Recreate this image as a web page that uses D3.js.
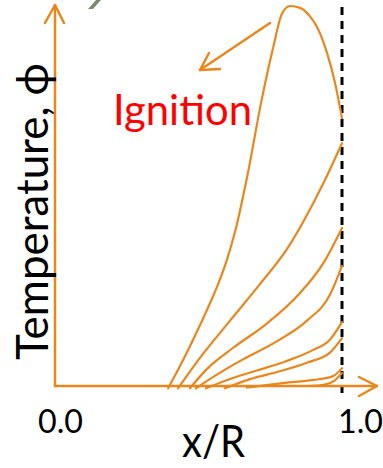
<html lang="en">
<head>
    <meta charset="UTF-8">
    <title>Temperature profiles and ignition</title>
    <style>
        body {
            margin: 0;
            background: #fff;
        }
        text {
            font-family: Lato, "DejaVu Sans", sans-serif;
        }
    </style>
</head>
<body>
    <div id="chart"></div>
    <script src="https://d3js.org/d3.v7.min.js"></script>
    <script>
        // temperature profiles phi(x/R), first one is the ignition curve
        const ignition = [[0.394, -0.006], [0.446, 0.068], [0.505, 0.160], [0.564, 0.260], [0.599, 0.332],
            [0.627, 0.405], [0.672, 0.560], [0.718, 0.745], [0.760, 0.890], [0.791, 0.980], [0.819, 1.0],
            [0.854, 0.995], [0.889, 0.972], [0.913, 0.945], [0.948, 0.876], [0.976, 0.797], [1.0, 0.705]];
        const profileB = [[0.429, -0.006], [0.505, 0.074], [0.610, 0.172], [0.714, 0.268], [0.808, 0.360],
            [0.878, 0.450], [0.934, 0.532], [1.0, 0.639]];
        const profileC = [[0.470, -0.006], [0.530, 0.045], [0.620, 0.100], [0.739, 0.165], [0.854, 0.245],
            [0.934, 0.322], [1.0, 0.416]];
        const profileD = [[0.491, -0.006], [0.564, 0.030], [0.655, 0.070], [0.774, 0.118], [0.878, 0.172],
            [0.958, 0.240], [1.0, 0.316]];
        const profileE = [[0.526, -0.006], [0.600, 0.016], [0.700, 0.040], [0.800, 0.064], [0.900, 0.095],
            [0.958, 0.122], [1.0, 0.168]];
        const profileF = [[0.592, -0.006], [0.680, 0.018], [0.780, 0.038], [0.880, 0.062], [0.958, 0.088],
            [1.0, 0.126]];
        const profileG = [[0.669, -0.004], [0.800, 0.008], [0.900, 0.016], [0.969, 0.026], [1.0, 0.047]];
        const profileH = [[0.880, 0.0], [0.940, 0.004], [0.975, 0.015], [1.0, 0.034]];
        const profiles = [ignition, profileB, profileC, profileD, profileE, profileF, profileG, profileH];

        const xTickValues = [0, 1];
        const xTickLabels = ["0.0", "1.0"];

        const width = 383;
        const height = 468;
        const orange = "#E8871E";

        const x = d3.scaleLinear().domain([0, 1]).range([55, 342]);
        const y = d3.scaleLinear().domain([0, 1]).range([386, 6]);
        const labelX = d3.scaleLinear().domain([0, 1]).range([38, 338]);

        const svg = d3.select('#chart')
            .append('svg')
            .attr('width', width)
            .attr('height', height);

        // grey bit of a cut-off title letter
        svg.append('path')
            .attr('d', 'M88,9 L93,9 L101,0 L96,0 Z')
            .attr('fill', '#7d8a73');

        // dashed wall line at x/R = 1
        svg.append('line')
            .attr('x1', x(1)).attr('x2', x(1))
            .attr('y1', 7).attr('y2', 395)
            .attr('stroke', '#000')
            .attr('stroke-width', 3)
            .attr('stroke-dasharray', '8,6');

        const line = d3.line()
            .x(d => x(d[0]))
            .y(d => y(d[1]))
            .curve(d3.curveMonotoneX);

        svg.selectAll('.profile')
            .data(profiles)
            .enter()
            .append('path')
            .attr('class', 'profile')
            .attr('d', line)
            .attr('fill', 'none')
            .attr('stroke', orange)
            .attr('stroke-width', 2.2)
            .attr('stroke-linecap', 'round');

        // axes with open arrow heads
        const axisG = svg.append('g')
            .attr('fill', 'none')
            .attr('stroke', orange)
            .attr('stroke-width', 2.5)
            .attr('stroke-linecap', 'round')
            .attr('stroke-linejoin', 'round');
        axisG.append('path')
            .attr('d', `M${x(0)},${y(0)} L${x(0)},5`);
        axisG.append('path')
            .attr('d', `M${x(0) - 10},23 L${x(0)},5 L${x(0) + 9},23`);
        axisG.append('path')
            .attr('d', `M${x(0)},${y(0)} L377,${y(0)}`);
        axisG.append('path')
            .attr('d', `M359,${y(0) - 9} L377,${y(0)} L359,${y(0) + 10}`);

        // ignition arrow
        axisG.append('path')
            .attr('d', 'M270,23 L200,70');
        axisG.append('path')
            .attr('d', 'M209,53 L200,70 L220,69');

        svg.append('text')
            .attr('x', 113)
            .attr('y', 125)
            .attr('font-size', 42)
            .attr('fill', '#ff0000')
            .attr('textLength', 139)
            .attr('lengthAdjust', 'spacingAndGlyphs')
            .text('Ignition');

        svg.append('text')
            .attr('transform', 'translate(48,360) rotate(-90)')
            .attr('font-size', 44)
            .attr('fill', '#000')
            .attr('textLength', 297)
            .attr('lengthAdjust', 'spacingAndGlyphs')
            .text('Temperature, \u03D5');

        svg.selectAll('.xtick')
            .data(xTickValues)
            .enter()
            .append('text')
            .attr('class', 'xtick')
            .attr('x', d => labelX(d))
            .attr('y', 433)
            .attr('font-size', 32)
            .attr('fill', '#000')
            .attr('textLength', 45)
            .attr('lengthAdjust', 'spacingAndGlyphs')
            .text((d, i) => xTickLabels[i]);

        svg.append('text')
            .attr('x', 182)
            .attr('y', 457)
            .attr('font-size', 44)
            .attr('fill', '#000')
            .attr('textLength', 63)
            .attr('lengthAdjust', 'spacingAndGlyphs')
            .text('x/R');
    </script>
</body>
</html>
